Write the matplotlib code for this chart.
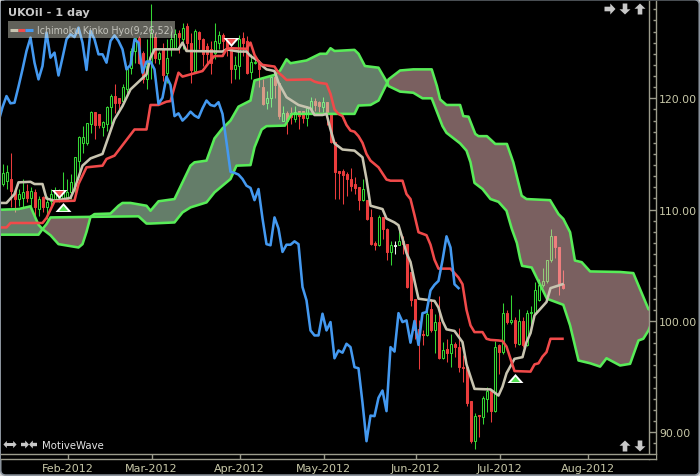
import numpy as np
import matplotlib
matplotlib.use("Agg")
import matplotlib.pyplot as plt
from matplotlib.patches import FancyBboxPatch, Rectangle, Polygon

# ---------- data (prices, bar index 0 = first visible candle) ----------
opens = [112.3,112.6,112.75,111.7,110.95,111.0,111.7,111.05,111.55,110.05,111.1,110.2,110.8,110.95,110.95,110.95,110.95,111.55,112.15,114.4,
 116.0,116.0,117.65,118.75,118.55,117.4,117.7,119.2,120.2,120.0,119.75,120.8,122.75,124.25,125.45,124.1,121.7,123.2,125.55,123.5,
 124.4,122.3,124.4,124.55,125.9,125.3,126.5,125.0,122.45,126.0,125.3,124.7,124.4,124.1,125.0,125.65,125.45,124.4,122.6,122.9,
 125.4,125.15,122.4,123.15,123.2,121.0,119.55,120.0,121.95,121.4,118.0,118.7,118.7,118.1,118.85,118.85,118.25,119.05,119.8,119.7,
 119.2,119.7,118.6,116.05,113.45,113.45,113.2,112.75,112.3,112.05,110.85,110.85,109.3,107.0,106.8,109.3,108.3,106.15,106.7,106.8,
 107.2,106.9,104.4,101.95,99.25,98.85,98.75,101.1,99.15,99.9,96.65,97.45,97.15,97.95,97.65,95.85,95.85,92.8,89.2,91.55,
 91.4,93.0,93.75,91.95,97.8,97.25,100.7,99.9,100.05,97.95,100.0,97.85,100.7,100.75,101.85,103.25,103.6,105.45,107.65,106.6,103.35]
closes = [113.3,113.35,111.7,110.95,111.4,111.55,111.05,111.65,110.2,110.95,110.2,110.65,111.4,111.55,111.55,111.7,111.55,112.5,114.7,116.5,
 116.5,117.75,118.75,117.6,117.6,117.9,119.2,120.2,119.55,119.6,121.05,122.6,124.25,125.45,123.2,121.7,122.9,125.9,123.65,124.1,
 122.05,123.65,125.3,125.75,125.5,126.35,125.0,122.55,126.05,125.3,123.95,123.95,123.2,125.15,125.65,125.15,124.4,122.6,123.0,125.3,
 125.0,122.3,123.3,123.3,122.6,119.5,120.05,121.95,121.2,118.4,118.65,118.0,118.35,118.8,118.45,118.25,119.1,119.8,119.4,119.3,
 119.65,118.6,116.05,113.4,113.3,113.15,112.75,112.15,111.95,110.85,111.85,109.2,106.9,106.8,109.3,108.3,106.2,106.85,106.85,107.15,
 106.9,103.05,101.85,99.15,98.7,98.7,100.65,99.15,99.9,96.65,97.35,97.15,97.95,97.65,95.85,95.75,92.65,89.2,91.5,91.45,
 93.1,93.75,91.9,97.65,97.25,100.7,99.9,100.05,98.05,100.0,97.85,100.7,100.8,102.75,103.25,103.6,105.45,107.6,106.6,103.3,102.95]
highs = [114.1,114.0,115.1,111.7,111.85,112.75,112.3,112.0,111.85,111.25,111.25,111.25,111.85,112.0,111.85,113.35,112.75,113.2,114.7,116.6,
 117.5,117.8,118.85,118.75,118.55,118.0,119.3,120.35,121.25,120.0,121.25,122.75,124.55,125.45,125.6,124.25,125.3,128.45,125.9,124.25,
 125.0,125.3,126.05,126.2,126.1,126.8,126.75,125.9,126.2,126.05,125.45,125.0,125.15,126.8,126.05,125.9,125.45,124.7,123.8,125.65,
 126.0,125.6,124.0,123.5,123.2,121.7,120.65,122.1,122.0,121.4,119.3,118.85,119.2,119.35,118.85,118.85,119.35,120.15,120.0,119.8,
 120.1,119.7,118.6,116.05,113.45,113.65,113.35,113.7,112.9,112.05,112.75,110.85,110.05,107.15,109.5,109.3,108.35,107.2,107.2,108.05,
 107.6,106.9,104.4,101.95,100.05,99.15,101.25,102.0,100.65,102.25,98.15,98.4,98.85,98.15,99.35,96.9,95.85,92.8,91.75,91.55,
 93.3,94.05,93.9,98.2,97.95,101.65,101.0,102.35,100.35,101.1,100.4,100.95,101.35,103.5,103.8,104.75,105.45,108.25,107.65,106.6,104.6]
lows = [112.15,111.85,110.2,109.75,110.35,110.2,110.65,110.2,109.45,109.45,109.75,109.15,110.2,110.8,110.65,110.8,110.8,110.95,111.1,113.05,
 115.1,115.85,116.9,116.3,117.3,116.6,117.1,117.7,118.7,119.0,119.6,120.5,122.15,123.2,123.05,121.4,120.8,121.7,123.2,123.05,
 121.55,121.4,123.8,124.4,124.1,124.4,124.25,121.4,122.4,124.4,122.9,123.2,122.15,123.5,124.4,123.8,123.8,121.4,121.7,121.7,
 123.8,122.15,121.7,123.05,121.05,119.4,119.0,119.2,120.05,118.1,117.95,116.8,117.7,117.85,117.2,117.8,117.5,118.75,118.9,118.75,
 118.75,117.6,116.0,110.95,110.95,110.5,111.25,111.7,111.4,110.0,110.8,109.1,106.85,106.4,106.7,107.4,105.45,105.05,106.0,106.8,
 106.0,102.95,101.35,98.4,95.65,97.8,98.65,99.05,97.1,96.55,96.55,96.3,95.85,96.75,95.4,94.5,92.4,89.0,88.5,89.6,
 90.7,91.8,90.9,91.8,95.25,97.05,99.75,99.75,97.65,97.85,97.7,97.75,99.0,100.65,101.75,103.05,103.45,105.3,105.65,102.35,102.85]
white_bars = [98]

tenkan_idx = [-1,1,3,4,7,8,10,11,13,17,18,20,22,25,28,30,32,36,37,38,44,45,46,55,56,59,61,62,64,65,66,68,69,71,74,77,78,80,81,82,83,85,88,90,91,92,95,96,98,99,100,101,102,103,104,106,108,109,110,111,113,114,115,116,118,122,124,125,126,128,130,131,132,133,136,137,140]
tenkan_val = [110.6,110.6,111.4,112.45,112.5,112.3,112.3,111.0,110.8,111.05,111.85,113.95,114.6,115.0,118.1,119.3,120.8,122.15,123.65,124.4,124.4,125.0,124.25,124.2,124.4,124.2,124.2,123.8,123.35,122.9,122.6,122.45,121.4,120.1,119.4,119.1,118.5,118.5,118.6,117.2,115.95,115.4,115.3,114.7,112.75,110.35,110.05,109.2,108.85,108.6,107.4,106.1,105.3,103.6,102.0,101.9,101.8,101.2,100.0,99.25,99.1,98.6,98.1,96.1,93.9,93.85,93.3,94.1,95.3,96.6,96.75,98.1,98.9,100.5,101.7,102.95,103.3]

kijun_idx = [-1,1,2,10,11,13,18,19,21,25,26,28,33,36,37,39,41,42,44,45,47,50,52,53,55,56,57,61,62,63,64,65,67,68,69,70,71,77,78,79,81,82,83,84,85,86,87,88,89,90,91,92,93,94,96,97,100,101,102,103,104,106,107,108,109,112,113,114,115,116,117,118,120,121,122,124,125,126,127,128,132,133,134,135,136,137,140]
kijun_val = [108.4,108.4,108.8,108.8,109.25,110.75,110.8,112.3,113.8,113.95,114.55,114.85,117.2,117.2,119.4,119.4,119.7,119.75,122.3,121.95,122.15,122.45,123.4,123.8,123.8,124.4,124.5,124.45,125.0,123.9,123.3,123.0,122.9,122.85,122.3,122.0,121.65,121.7,121.5,121.4,121.3,120.4,119.0,118.6,118.4,117.6,117.1,117.0,116.6,116.0,115.0,114.4,114.1,113.8,112.7,112.6,112.6,111.4,110.95,109.5,107.97,107.7,106.85,105.5,104.7,104.7,104.3,103.9,103.3,101.0,99.6,99.0,99.0,98.4,98.3,98.25,98.2,97.7,96.6,95.5,95.45,96.1,96.2,96.8,97.2,98.4,98.4]

span_a_idx = [-1,0,4,7,8,9,10,12,13,14,19,20,21,22,23,27,29,30,32,36,37,39,43,45,47,48,51,53,55,57,59,62,63,68,69.4,71,72,76,79.4,81,82,83,88,89,90.6,94,96.2,96.5,99.4,102.7,105,107.3,110,111,114.4,116,117,118,120,122,124,126,127.3,128.6,129.4,129.9,132.3,136.1,140.2,141.9,144,146.9,149.4,151,154.4,156.9,159,160.2,161.5,163]
span_a_val = [110.0,110.0,110.05,110.3,109.45,108.65,108.25,107.7,107.3,106.9,106.6,106.9,108.0,109.35,109.6,109.65,110.35,110.6,110.6,110.35,109.9,110.75,110.95,112.45,113.95,114.25,114.4,116.4,117.3,118.0,119.25,119.8,121.6,122.1,122.5,123.5,123.15,123.4,124.0,124.0,124.5,124.25,124.35,124.0,122.9,122.75,121.4,121.1,120.6,120.5,120.0,120.0,117.5,116.9,115.95,115.3,114.25,112.4,111.85,110.95,110.7,109.9,108.3,107.0,105.6,104.95,104.8,102.0,101.45,99.6,96.45,96.2,95.9,96.65,96.0,96.15,98.25,98.4,99.15,100.5]
span_b_idx = [-1,0,9,10,11,12,22,34,36,37,43,45,47,51,53,57,58.5,62,63,64.8,66,70.6,72.3,88,89,92,94,96.2,96.5,99.4,102.7,107.3,108.6,109.4,111,114.4,115.2,116.5,118.2,119,121.1,123.2,126.1,127.7,129.8,131,136.9,139,140.2,141.9,143.1,144.8,146.9,154.4,157.7,161.5,163]
span_b_val = [107.75,107.75,107.75,108.25,108.7,109.3,109.35,109.4,108.75,108.75,108.85,109.75,110.2,110.65,111.55,112.75,113.95,114.0,115.6,117.2,117.5,117.55,118.6,118.6,119.35,119.4,119.8,121.4,121.7,122.5,122.6,122.6,121.1,119.9,119.4,119.4,118.4,118.35,116.8,116.6,116.6,115.9,115.9,114.25,111.25,110.95,110.85,109.6,109.17,107.97,105.43,105.28,104.45,104.4,104.3,101.05,100.9]
cloud_breaks = [-1, 10, 22, 96.2, 163]

buy_signals = ([15, 128], [110.28, 94.9])
sell_signals = ([14, 57], [111.4, 125.1])

month_idx = [16.25, 37.25, 59.25, 80.25, 103.25, 124.25, 146.25]
month_labels = ["Feb-2012","Mar-2012","Apr-2012","May-2012","Jun-2012","Jul-2012","Aug-2012"]
price_ticks = [90, 100, 110, 120]
price_minor = list(range(88, 129))

W, H = 700, 477
C_AXIS = "#9c9c8c"; C_TEXT = "#c8c8a8"; C_UP = "#34d634"; C_DN = "#ea3c3c"
C_TEN = "#c8c4b0"; C_KIJ = "#f04a4a"; C_CHI = "#4499f0"; C_CLOUD = "#58ec58"
C_GLYPH = "#c8c8c8"
LW = 1.85

fig = plt.figure(figsize=(W/100, H/100), dpi=100, facecolor="#d0d0d0")

def rect(x0, ytop, x1, ybot):
    return [x0/W, 1-ybot/H, (x1-x0)/W, (ybot-ytop)/H]

bg = fig.add_axes([0,0,1,1], zorder=-1)
bg.set_xlim(0,W); bg.set_ylim(H,0); bg.axis("off")
bg.add_patch(FancyBboxPatch((0.7,0.7),W-1.4,H-1.6,boxstyle="round,pad=0,rounding_size=5",fc="black",ec="#8a929c",lw=1.2))

ymin, ymax = 88.05, 128.74
ax = fig.add_axes(rect(1,2,649,455), facecolor="black", zorder=1)
ax.set_xlim(-0.375,161.625); ax.set_ylim(ymin,ymax)
ax.set_xticks([]); ax.set_yticks([])
for s in ax.spines.values(): s.set_visible(False)

# candles
xs = np.arange(len(opens))
o = np.array(opens); c = np.array(closes)
up = c >= o
wick_col = [("#f0f0f0" if i in white_bars else (C_UP if up[i] else C_DN)) for i in xs]
ax.vlines(xs, lows, highs, colors=wick_col, lw=0.75, zorder=2)
face = ["#f0f0f0" if i in white_bars else ("black" if up[i] else C_DN) for i in xs]
ax.bar(xs, np.abs(c-o), bottom=np.minimum(o,c), width=0.5, color=face, edgecolor=wick_col, lw=0.75, zorder=2.1)

# cloud
ia, va = np.array(span_a_idx), np.array(span_a_val)
ib, vb = np.array(span_b_idx), np.array(span_b_val)
fills = [(200/255,250/255,210/255), (244/255,192/255,192/255)]
for k in range(len(cloud_breaks)-1):
    lo, hi = cloud_breaks[k], cloud_breaks[k+1]
    ma = (ia>=lo)&(ia<=hi); mb = (ib>=lo)&(ib<=hi)
    verts = np.r_[np.c_[ia[ma],va[ma]], np.c_[ib[mb],vb[mb]][::-1]]
    ax.add_patch(Polygon(verts, closed=True, fc=fills[k%2], ec="none", alpha=0.5, zorder=3))
ax.plot(ia, va, color=C_CLOUD, lw=LW, zorder=4)
ax.plot(ib, vb, color=C_CLOUD, lw=LW, zorder=4)

# lines
ax.plot(tenkan_idx, tenkan_val, color=C_TEN, lw=LW, zorder=5)
ax.plot(kijun_idx, kijun_val, color=C_KIJ, lw=LW, zorder=5)
chikou = closes[25:]
ax.plot(np.arange(len(chikou))-1, chikou, color=C_CHI, lw=LW, zorder=5)

# signals
outer_dn = [(-8,4.5),(8,4.5),(0,-4.5)]; inner_dn = [(-5,4),(5,4),(0,-2)]
outer_up = [(-8,-4.5),(8,-4.5),(0,4.5)]; inner_up = [(-5,-4),(5,-4),(0,2)]
ax.plot(*sell_signals, ls="", marker=outer_dn, ms=11.5, mfc="white", mec="none", zorder=6)
ax.plot(*sell_signals, ls="", marker=inner_dn, ms=6.5, mfc="#f05050", mec="none", zorder=7)
ax.plot(*buy_signals, ls="", marker=outer_up, ms=11.5, mfc="white", mec="none", zorder=6)
ax.plot(*buy_signals, ls="", marker=inner_up, ms=6.5, mfc="#50e050", mec="none", zorder=7)

# right scale band
ra = fig.add_axes(rect(649,2,655.5,460), facecolor="black", zorder=2)
ra.set_xlim(0,1)
ra.set_ylim(ymin-(5/11.133), ymax)
ra.set_xticks([])
for n,s in ra.spines.items():
    s.set_visible(n in ("left","right")); s.set_color(C_AXIS); s.set_linewidth(1)
ra.yaxis.tick_right()
ra.set_yticks(price_ticks); ra.set_yticklabels([f"{p:.2f}" for p in price_ticks])
ra.set_yticks(price_minor, minor=True)
ra.tick_params(axis="y", which="major", direction="in", length=4.7, width=1, color=C_AXIS, labelcolor=C_TEXT, labelsize=7.8, pad=2.5)
ra.tick_params(axis="y", which="minor", direction="in", length=2.2, width=1, color=C_AXIS)

# bottom scale band
ba = fig.add_axes(rect(1,455,655.5,460), facecolor="black", zorder=2)
ba.set_xlim(-0.375,(655.5-2.5)/4); ba.set_ylim(0,1); ba.set_yticks([])
for n,s in ba.spines.items():
    s.set_visible(n in ("top","bottom")); s.set_color(C_AXIS); s.set_linewidth(1)
ba.set_xticks(month_idx); ba.set_xticklabels(month_labels)
ba.tick_params(axis="x", direction="in", length=3.6, width=1, color=C_AXIS, labelcolor=C_TEXT, labelsize=8, pad=3)

# overlay: title, legend, navigation glyphs
ov = fig.add_axes([0,0,1,1], zorder=10, facecolor="none")
ov.set_xlim(0,W); ov.set_ylim(H,0); ov.axis("off")
ov.text(7.5,13.5,"UKOil - 1 day",color="#c8c8c8",fontsize=8.1,fontweight="bold",va="center",ha="left")
ov.add_patch(Rectangle((8,22),167,17,fc="#e8e8d8",ec="none",alpha=0.42))
ov.plot([10,18],[30.5,30.5],color=C_TEN,lw=2.2,solid_capstyle="butt")
ov.plot([18,25],[30.5,30.5],color=C_KIJ,lw=2.2,solid_capstyle="butt")
ov.plot([25,33],[30.5,30.5],color=C_CHI,lw=2.2,solid_capstyle="butt")
ov.text(37,31,"Ichimoku Kinko Hyo(9,26,52)",color="#c4c4bc",fontsize=6.85,va="center",ha="left")
ov.text(42,446.5,"MotiveWave",color="#e4e4e4",fontsize=7.3,va="center",ha="left")

def arrow(cx, cy, ang, s=5.5, col=C_GLYPH):
    pts = np.array([(0,-1),(1,-0.05),(0.42,-0.05),(0.42,1),(-0.42,1),(-0.42,-0.05),(-1,-0.05)])*s
    t = np.deg2rad(ang)
    R = np.array([[np.cos(t),-np.sin(t)],[np.sin(t),np.cos(t)]])
    ov.add_patch(Polygon(pts@R.T+[cx,cy], closed=True, fc=col, ec="none"))

arrow(610,10,90); arrow(625,10,180); arrow(640,10,0)     # right, down, up
arrow(625,447,0); arrow(640,447,180)
arrow(7,445.5,-90,3.6); arrow(13,445.5,90,3.6)
arrow(25,445.5,90,4); arrow(33,445.5,-90,4)

fig.savefig("out.png", dpi=100, facecolor=fig.get_facecolor())
